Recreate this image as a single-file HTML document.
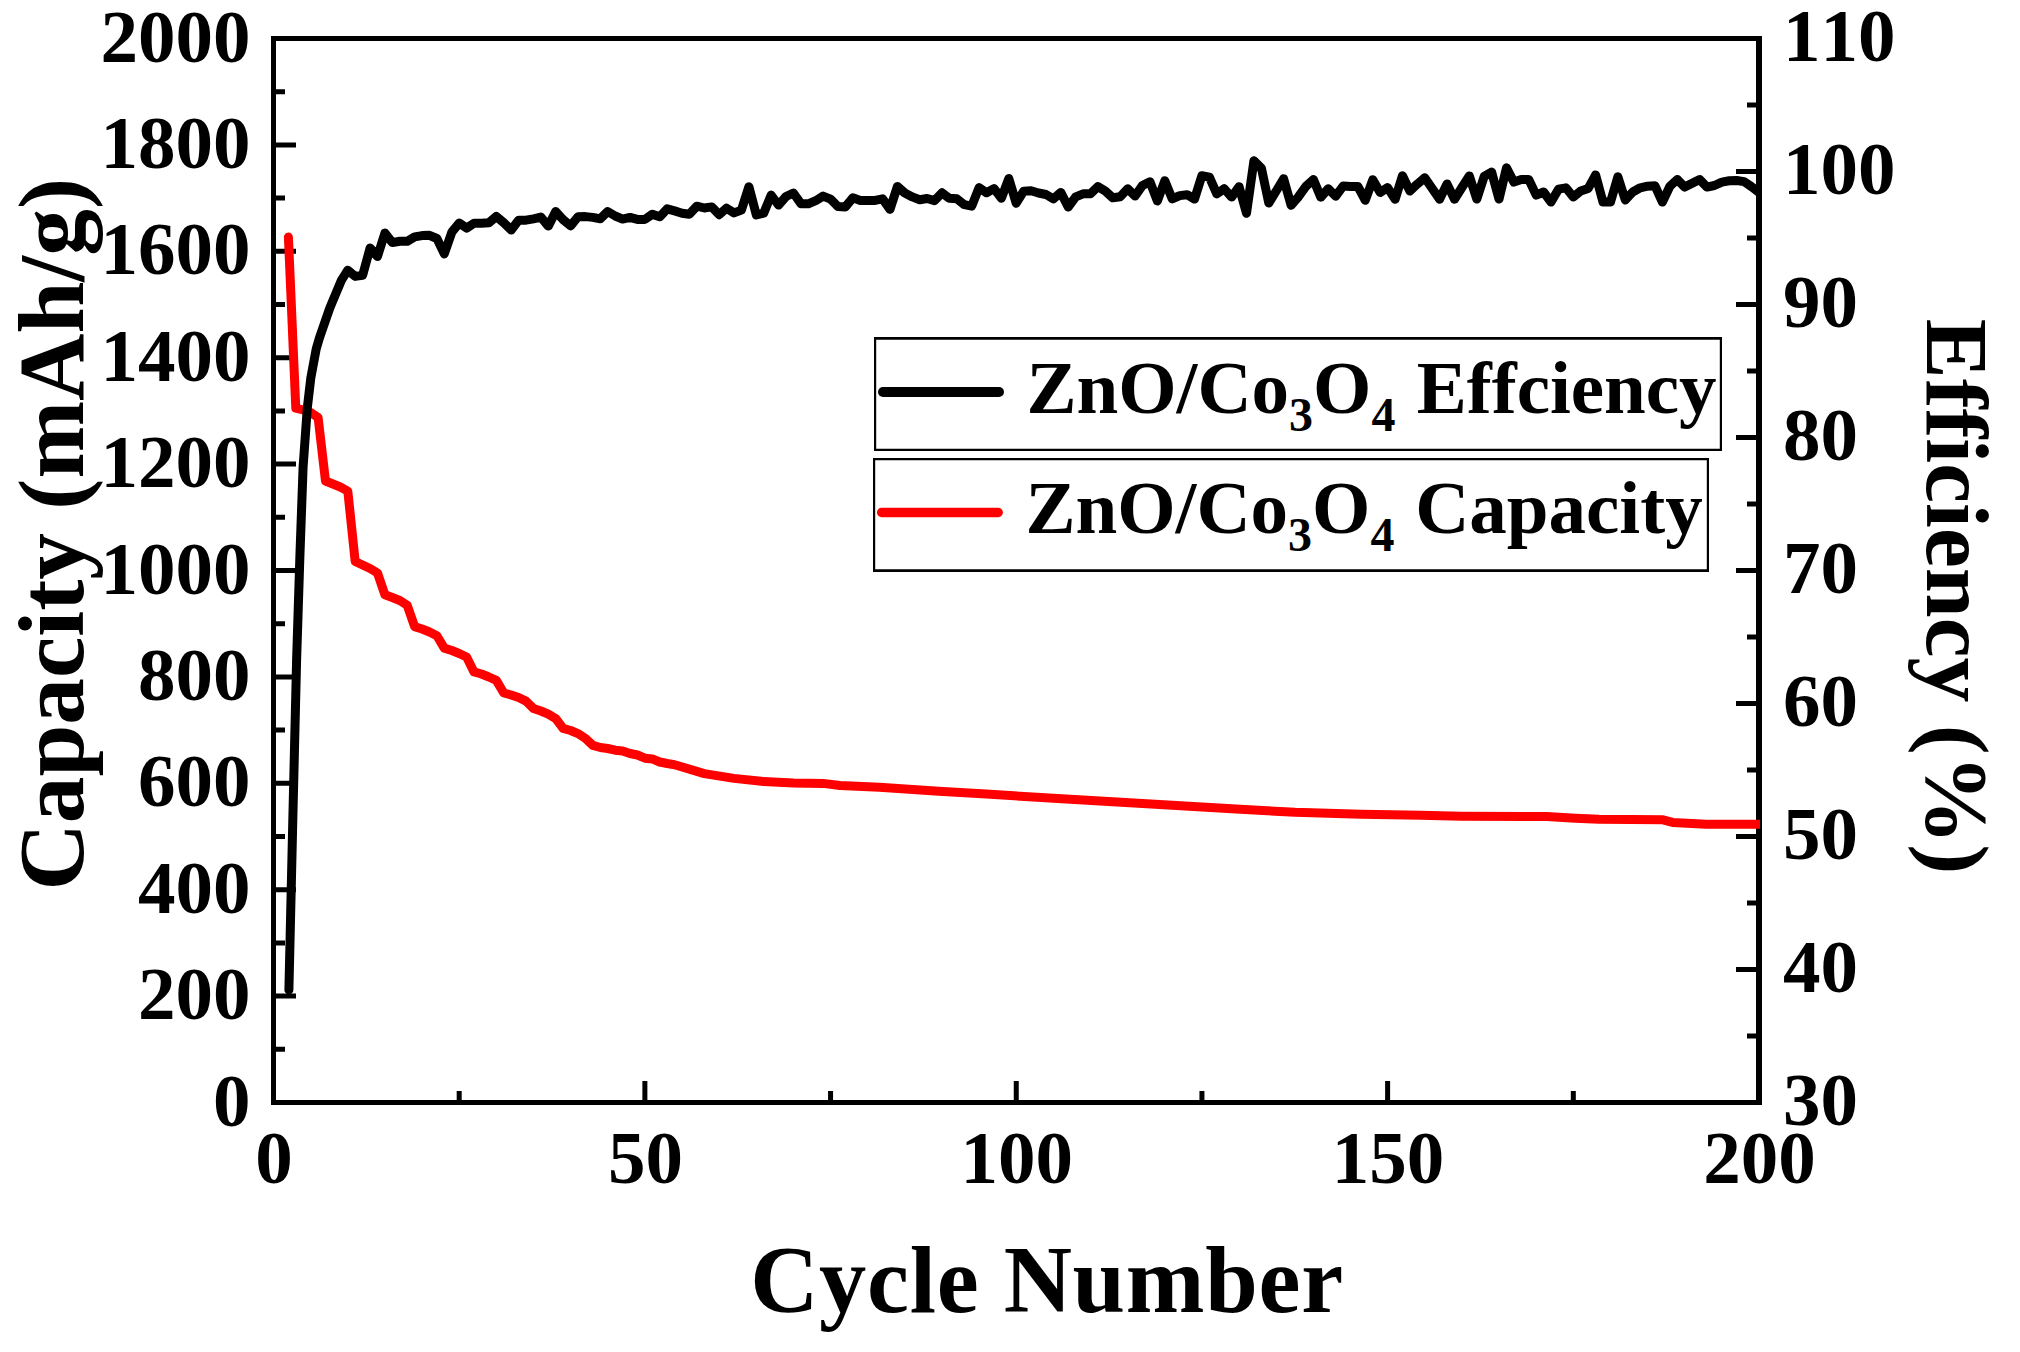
<!DOCTYPE html>
<html><head><meta charset="utf-8"><title>Cycle performance</title>
<style>
html,body{margin:0;padding:0;background:#fff;}
svg{display:block;}
text{font-family:'Liberation Serif','Times New Roman',serif;font-weight:bold;fill:#000;font-kerning:none;font-variant-ligatures:none;}
</style></head><body>
<svg width="2020" height="1352" viewBox="0 0 2020 1352">
<rect width="2020" height="1352" fill="#fff"/>
<path d="M271 36H1762V1105H271ZM276 41V1100H1756V41Z" fill="#000" fill-rule="evenodd"/>
<path d="M273.50 1049.30h11.5M273.50 996.10h22.5M273.50 942.90h11.5M273.50 889.70h22.5M273.50 836.50h11.5M273.50 783.30h22.5M273.50 730.10h11.5M273.50 676.90h22.5M273.50 623.70h11.5M273.50 570.50h22.5M273.50 517.30h11.5M273.50 464.10h22.5M273.50 410.90h11.5M273.50 357.70h22.5M273.50 304.50h11.5M273.50 251.30h22.5M273.50 198.10h11.5M273.50 144.90h22.5M273.50 91.70h11.5M1759.00 1036.00h-12.0M1759.00 969.50h-23.0M1759.00 903.00h-12.0M1759.00 836.50h-23.0M1759.00 770.00h-12.0M1759.00 703.50h-23.0M1759.00 637.00h-12.0M1759.00 570.50h-23.0M1759.00 504.00h-12.0M1759.00 437.50h-23.0M1759.00 371.00h-12.0M1759.00 304.50h-23.0M1759.00 238.00h-12.0M1759.00 171.50h-23.0M1759.00 105.00h-12.0M459.19 1102.50v-11.5M644.88 1102.50v-21.5M830.56 1102.50v-11.5M1016.25 1102.50v-21.5M1201.94 1102.50v-11.5M1387.62 1102.50v-21.5M1573.31 1102.50v-11.5" stroke="#000" stroke-width="5" fill="none"/>
<clipPath id="pc"><rect x="271" y="36" width="1489" height="1069"/></clipPath>
<g clip-path="url(#pc)">
<polyline points="288.4,237.0 295.8,408.2 303.2,410.0 310.6,412.5 318.1,417.4 325.5,481.0 332.9,484.0 340.3,487.0 347.8,491.1 355.2,561.5 362.6,565.0 370.1,568.5 377.5,573.0 384.9,594.7 392.3,597.5 399.8,600.5 407.2,605.3 414.6,626.6 422.1,629.0 429.5,632.0 436.9,635.8 444.3,648.1 451.8,650.5 459.2,653.5 466.6,657.0 474.0,671.9 481.5,674.0 488.9,677.0 496.3,680.4 503.8,693.0 511.2,695.0 518.6,697.5 526.0,701.1 533.5,708.5 540.9,711.0 548.3,714.2 555.7,718.6 563.2,728.4 570.6,730.5 578.0,733.6 585.5,738.5 592.9,745.4 600.3,747.5 607.7,748.5 615.2,750.2 622.6,750.9 630.0,753.5 637.4,755.0 644.9,758.2 652.3,758.9 659.7,762.0 667.2,763.5 674.6,764.7 704.3,773.6 734.0,778.4 763.7,781.6 793.4,783.1 823.1,783.4 840.0,785.5 879.4,787.2 938.8,791.3 986.3,794.1 1057.6,798.4 1117.0,801.9 1176.5,805.5 1235.9,809.1 1295.0,812.2 1361.3,814.2 1420.7,815.3 1461.1,816.2 1546.7,816.6 1575.2,818.3 1598.9,819.3 1663.1,819.8 1672.6,822.4 1705.9,824.3 1764.0,824.3" fill="none" stroke="#ff0000" stroke-width="9" stroke-linejoin="round" stroke-linecap="round"/>
<polyline points="288.9,990.0 292.8,820.0 296.6,660.0 299.9,556.0 303.1,467.0 307.3,408.0 310.8,378.0 316.2,349.0 319.4,338.0 329.8,308.0 341.2,280.7 347.8,270.2 355.2,276.4 362.6,275.4 370.1,248.0 377.5,256.5 384.9,233.0 392.3,242.6 399.8,241.3 407.2,241.3 414.6,236.9 422.1,235.6 429.5,235.3 436.9,238.5 444.3,253.9 451.8,232.2 459.2,223.1 466.6,228.1 474.0,223.3 481.5,223.3 488.9,222.8 496.3,216.5 503.8,222.8 511.2,230.0 518.6,220.2 526.0,220.2 533.5,218.8 540.9,217.1 548.3,226.1 555.7,211.6 563.2,219.7 570.6,225.9 578.0,216.7 585.5,216.6 592.9,217.4 600.3,218.8 607.7,211.5 615.2,216.0 622.6,219.1 630.0,217.4 637.4,219.4 644.9,219.4 652.3,214.2 659.7,216.8 667.2,208.9 674.6,210.9 682.0,213.2 689.4,214.2 696.9,206.2 704.3,208.0 711.7,206.9 719.2,214.7 726.6,208.2 734.0,212.9 741.4,210.1 748.9,186.7 756.3,214.9 763.7,213.2 771.1,195.1 778.6,205.1 786.0,196.5 793.4,193.0 800.9,203.7 808.3,203.8 815.7,200.7 823.1,196.1 830.6,199.1 838.0,206.6 845.4,206.9 852.8,197.8 860.3,200.4 867.7,200.4 875.1,200.4 882.6,198.8 890.0,209.4 897.4,186.5 904.8,193.0 912.3,196.9 919.7,199.8 927.1,198.5 934.5,200.6 942.0,192.8 949.4,198.3 956.8,198.8 964.3,204.7 971.7,206.1 979.1,187.6 986.5,192.8 994.0,188.6 1001.4,198.2 1008.8,178.5 1016.2,203.2 1023.7,191.2 1031.1,190.8 1038.5,193.0 1046.0,194.5 1053.4,198.9 1060.8,192.4 1068.2,207.0 1075.7,196.8 1083.1,193.8 1090.5,193.8 1098.0,186.6 1105.4,191.1 1112.8,197.8 1120.2,196.8 1127.7,188.7 1135.1,196.0 1142.5,185.4 1149.9,181.7 1157.4,201.0 1164.8,180.7 1172.2,198.9 1179.7,195.6 1187.1,194.7 1194.5,199.1 1201.9,175.7 1209.4,177.1 1216.8,193.9 1224.2,188.7 1231.6,197.1 1239.1,186.7 1246.5,213.3 1253.9,160.8 1261.4,168.1 1268.8,203.1 1276.2,191.0 1283.6,178.7 1291.1,205.2 1298.5,196.7 1305.9,186.3 1313.4,179.5 1320.8,197.2 1328.2,188.7 1335.6,196.2 1343.1,186.1 1350.5,186.5 1357.9,186.5 1365.3,200.3 1372.8,179.7 1380.2,192.5 1387.6,187.6 1395.1,199.3 1402.5,175.7 1409.9,191.1 1417.3,184.1 1424.8,177.8 1432.2,188.5 1439.6,199.3 1447.0,183.9 1454.5,199.3 1461.9,187.5 1469.3,175.9 1476.8,199.1 1484.2,176.4 1491.6,172.0 1499.0,199.1 1506.5,167.8 1513.9,182.1 1521.3,179.4 1528.7,179.4 1536.2,195.1 1543.6,192.0 1551.0,202.1 1558.5,189.2 1565.9,187.8 1573.3,197.0 1580.7,191.0 1588.2,188.4 1595.6,174.9 1603.0,202.1 1610.5,201.9 1617.9,176.8 1625.3,200.0 1632.7,192.0 1640.2,187.8 1647.6,186.2 1655.0,185.8 1662.4,202.1 1669.9,186.3 1677.3,179.5 1684.7,187.1 1692.2,183.2 1699.6,179.5 1707.0,187.1 1714.4,185.5 1721.9,182.1 1729.3,180.8 1736.7,180.5 1744.1,181.6 1751.6,186.8 1759.0,192.5" fill="none" stroke="#000" stroke-width="9" stroke-linejoin="round" stroke-linecap="round"/>
</g>
<g font-size="75">
<text x="250.5" y="1125.6" text-anchor="end">0</text>
<text x="250.5" y="1019.2" text-anchor="end">200</text>
<text x="250.5" y="912.8" text-anchor="end">400</text>
<text x="250.5" y="806.4" text-anchor="end">600</text>
<text x="250.5" y="700.0" text-anchor="end">800</text>
<text x="250.5" y="593.6" text-anchor="end">1000</text>
<text x="250.5" y="487.2" text-anchor="end">1200</text>
<text x="250.5" y="380.8" text-anchor="end">1400</text>
<text x="250.5" y="274.4" text-anchor="end">1600</text>
<text x="250.5" y="168.0" text-anchor="end">1800</text>
<text x="250.5" y="61.6" text-anchor="end">2000</text>
<text x="1783" y="1125.2">30</text>
<text x="1783" y="992.2">40</text>
<text x="1783" y="859.2">50</text>
<text x="1783" y="726.2">60</text>
<text x="1783" y="593.2">70</text>
<text x="1783" y="460.2">80</text>
<text x="1783" y="327.2">90</text>
<text x="1783" y="194.2">100</text>
<text x="1783" y="61.2">110</text>
<text x="274.0" y="1183" text-anchor="middle">0</text>
<text x="645.4" y="1183" text-anchor="middle">50</text>
<text x="1016.8" y="1183" text-anchor="middle">100</text>
<text x="1388.1" y="1183" text-anchor="middle">150</text>
<text x="1759.5" y="1183" text-anchor="middle">200</text>
</g>
<text x="1047" y="1312" font-size="94.5" letter-spacing="0.7" text-anchor="middle">Cycle Number</text>
<text transform="translate(83 534.3) rotate(-90)" font-size="93.3" text-anchor="middle">Capacity (mAh/g)</text>
<text transform="translate(1927 596.5) rotate(90)" font-size="89.7" text-anchor="middle">Efficiency (%)</text>
<path d="M874 337H1722V451H874ZM876.2 339.8V448.8H1719.8V339.8Z" fill="#000" fill-rule="evenodd"/>
<path d="M873 458H1709V572H873ZM875.2 460.3V569.2H1706.8V460.3Z" fill="#000" fill-rule="evenodd"/>
<line x1="883" y1="392" x2="999" y2="392" stroke="#000" stroke-width="10" stroke-linecap="round"/>
<line x1="881.6" y1="512.5" x2="998.2" y2="512.5" stroke="#ff0000" stroke-width="9.4" stroke-linecap="round"/>
<text x="1026.5" y="413.2" font-size="75">ZnO/Co<tspan font-size="48" dy="18">3</tspan><tspan dy="-18">O</tspan><tspan font-size="48" dy="18">4</tspan><tspan dy="-18" dx="2.5"> Effciency</tspan></text>
<text x="1025.5" y="533.3" font-size="75">ZnO/Co<tspan font-size="48" dy="18">3</tspan><tspan dy="-18">O</tspan><tspan font-size="48" dy="18">4</tspan><tspan dy="-18" dx="2"> Capacity</tspan></text>
</svg>
</body></html>
